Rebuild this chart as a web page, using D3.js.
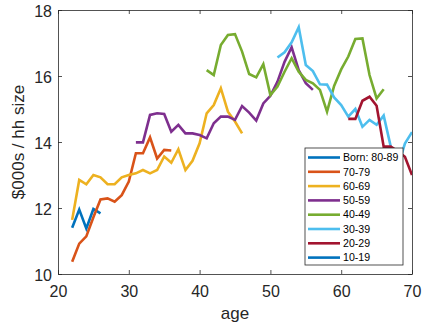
<!DOCTYPE html>
<html>
<head>
<meta charset="utf-8">
<script src="https://cdn.jsdelivr.net/npm/d3@7"></script>
<style>
  body { margin: 0; background: #fff; }
  svg { display: block; font-family: "Liberation Sans", Arial, sans-serif; }
</style>
</head>
<body>
<script>
// Width and height of svg
var w = 423;
var h = 330;

// Cohort names (legend order) and the first age each series is observed
var cohorts = ["Born: 80-89", "70-79", "60-69", "50-59", "40-49", "30-39", "20-29", "10-19"];
var startAges = [22, 22, 22, 31, 41, 51, 61, 70];

// $000s per household-size member, one value per year of age
var born8089 = [11.40, 11.95, 11.38, 11.97, 11.84];
var born7079 = [10.37, 10.92, 11.14, 11.72, 12.26, 12.29, 12.19, 12.39, 12.80, 13.66, 13.66, 14.14, 13.50, 13.76, 13.74];
var born6069 = [11.64, 12.85, 12.72, 13.00, 12.93, 12.72, 12.72, 12.93, 13.00, 13.05, 13.15, 13.05, 13.15, 13.56, 13.37,
                13.78, 13.15, 13.43, 13.96, 14.87, 15.12, 15.63, 14.92, 14.62, 14.26];
var born5059 = [13.99, 13.99, 14.82, 14.87, 14.85, 14.31, 14.52, 14.26, 14.26, 14.21, 14.11, 14.57, 14.77, 14.77, 14.67,
                15.09, 14.89, 14.65, 15.17, 15.40, 15.83, 16.43, 16.87, 16.18, 15.78, 15.58];
var born4049 = [16.18, 16.03, 16.94, 17.24, 17.27, 16.74, 16.06, 15.96, 16.36, 15.42, 15.68, 16.13, 16.54, 16.13, 15.88,
                15.78, 15.58, 14.92, 15.70, 16.20, 16.59, 17.12, 17.14, 16.03, 15.32, 15.60];
var born3039 = [16.56, 16.72, 17.02, 17.48, 16.33, 16.15, 15.75, 15.74, 15.35, 15.12, 14.77, 15.00, 14.46, 14.67, 14.52,
                14.80, 13.86, 13.25, 13.95, 14.30];
var born2029 = [14.70, 14.70, 15.25, 15.37, 15.10, 13.86, 13.86, 13.72, 13.55, 13.00];
var born1019 = [];

var seriesValues = [born8089, born7079, born6069, born5059, born4049, born3039, born2029, born1019];

// Axis ticks
var xTicks = [20, 30, 40, 50, 60, 70];
var yTicks = [10, 12, 14, 16, 18];

// MATLAB default line colours
var colors = ["#0072BD", "#D95319", "#EDB120", "#7E2F8E", "#77AC30", "#4DBEEE", "#A2142F", "#0072BD"];
var axisColor = "#262626";

// Plot box (window.top is read-only, so no "top" here)
var plotLeft = 58, plotRight = 412, plotTop = 10, plotBottom = 274;

var x = d3.scaleLinear().domain([20, 70]).range([plotLeft, plotRight]);
var y = d3.scaleLinear().domain([10, 18]).range([plotBottom, plotTop]);

//Create SVG element
var svg = d3.select("body")
        .append("svg")
        .attr("width", w)
        .attr("height", h);

// Build {age, value} points for each cohort
var series = cohorts.map(function(name, i) {
    return {
        name: name,
        color: colors[i],
        points: seriesValues[i].map(function(v, j) { return { age: startAges[i] + j, value: v }; })
    };
});

var line = d3.line()
        .x(function(d) { return x(d.age); })
        .y(function(d) { return y(d.value); });

// Clip lines to the plot box
svg.append("clipPath")
        .attr("id", "plotClip")
      .append("rect")
        .attr("x", plotLeft)
        .attr("y", plotTop)
        .attr("width", plotRight - plotLeft)
        .attr("height", plotBottom - plotTop);

svg.append("g")
        .attr("clip-path", "url(#plotClip)")
      .selectAll("path")
        .data(series)
        .enter()
        .append("path")
        .attr("d", function(d) { return line(d.points); })
        .attr("fill", "none")
        .attr("stroke", function(d) { return d.color; })
        .attr("stroke-width", 2.6)
        .attr("stroke-linejoin", "miter");

// Axes: ticks point inwards on all four sides (box on)
function styleAxis(g) {
    g.select(".domain").attr("stroke", axisColor).attr("stroke-width", 0.8);
    g.selectAll(".tick line").attr("stroke", axisColor).attr("stroke-width", 0.8);
    g.selectAll(".tick text")
        .attr("fill", axisColor)
        .style("font-size", "16px")
        .style("font-family", "'Liberation Sans', Arial, sans-serif");
}

svg.append("g")
        .attr("transform", "translate(0," + plotBottom + ")")
        .call(d3.axisBottom(x).tickValues(xTicks).tickSizeInner(-4).tickSizeOuter(0).tickPadding(11.5))
        .call(styleAxis);

svg.append("g")
        .attr("transform", "translate(0," + plotTop + ")")
        .call(d3.axisTop(x).tickValues(xTicks).tickSizeInner(-4).tickSizeOuter(0).tickFormat(""))
        .call(styleAxis);

svg.append("g")
        .attr("transform", "translate(" + plotLeft + ",0)")
        .call(d3.axisLeft(y).tickValues(yTicks).tickSizeInner(-4).tickSizeOuter(0).tickPadding(6))
        .call(styleAxis)
      .selectAll(".tick text")
        .attr("dy", "0.4em");

svg.append("g")
        .attr("transform", "translate(" + plotRight + ",0)")
        .call(d3.axisRight(y).tickValues(yTicks).tickSizeInner(-4).tickSizeOuter(0).tickFormat(""))
        .call(styleAxis);

// Axis labels
svg.append("text")
        .attr("x", (plotLeft + plotRight) / 2)
        .attr("y", 319)
        .attr("text-anchor", "middle")
        .attr("fill", axisColor)
        .style("font-size", "17px")
        .text("age");

svg.append("text")
        .attr("transform", "translate(24," + ((plotTop + plotBottom) / 2) + ") rotate(-90)")
        .attr("text-anchor", "middle")
        .attr("fill", axisColor)
        .style("font-size", "17px")
        .text("$000s / hh size");

// Legend
var legend = svg.append("g")
        .attr("transform", "translate(305,148)");

legend.append("rect")
        .attr("width", 98)
        .attr("height", 117)
        .attr("fill", "#fff")
        .attr("stroke", axisColor)
        .attr("stroke-width", 0.8);

var rows = legend.selectAll(".row")
        .data(series)
        .enter()
        .append("g")
        .attr("class", "row")
        .attr("transform", function(d, i) { return "translate(0," + (9.5 + i * 14.3) + ")"; });

rows.append("line")
        .attr("x1", 3)
        .attr("x2", 35)
        .attr("stroke", function(d) { return d.color; })
        .attr("stroke-width", 2.6);

rows.append("text")
        .attr("x", 38)
        .attr("dy", "0.35em")
        .attr("fill", "#000")
        .style("font-size", "10.6px")
        .text(function(d) { return d.name; });
</script>
</body>
</html>
